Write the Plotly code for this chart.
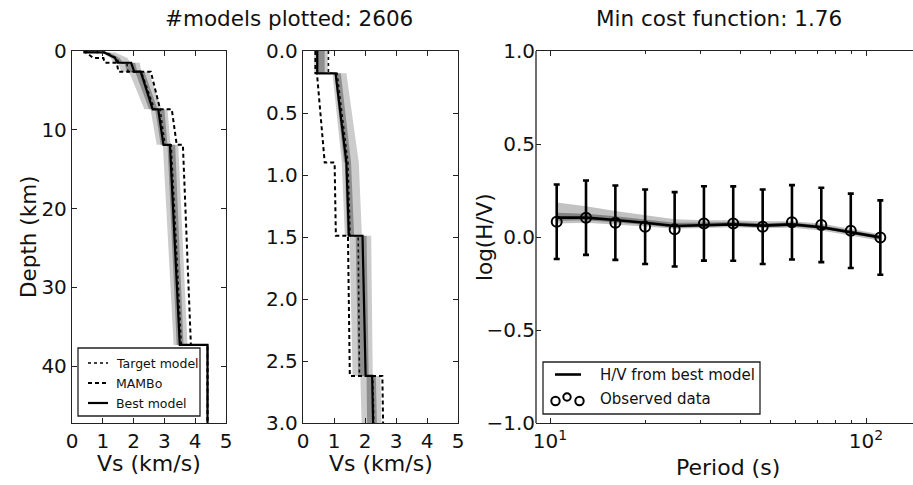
import plotly.graph_objects as go

# ---------------- data ----------------
# Layered Vs profiles (depth boundaries in km, Vs at top / bottom of each layer in km/s)
LAYER_Z = [0.0, 0.18, 0.90, 1.49, 2.62, 7.40, 11.90, 37.30, 47.50]
BEST_V_TOP = [0.46, 1.05, 1.40, 1.92, 2.23, 2.80, 3.18, 4.40]
BEST_V_BOT = [0.46, 1.40, 1.48, 2.02, 2.62, 2.97, 3.50, 4.40]
MAMBO_V_TOP = [0.40, 0.45, 1.02, 1.45, 2.56, 3.24, 3.60, 4.40]
MAMBO_V_BOT = [0.40, 0.70, 1.06, 1.51, 2.86, 3.40, 3.86, 4.40]
TARGET_V_TOP = [0.82, 1.10, 1.45, 1.78, 2.25, 2.86, 3.22, 4.40]
TARGET_V_BOT = [0.82, 1.45, 1.52, 1.82, 2.68, 3.02, 3.55, 4.40]

# envelope of the plotted ensemble of models (first 7 layers)
ENS_Z = [0.0, 0.18, 0.90, 1.49, 2.62, 7.40, 11.90, 37.30]
ENS_OUT_LO_TOP = [0.36, 0.95, 1.25, 1.50, 1.85, 2.55, 2.95]
ENS_OUT_LO_BOT = [0.36, 1.25, 1.35, 1.60, 2.35, 2.75, 3.30]
ENS_OUT_HI_TOP = [0.80, 1.40, 1.80, 2.20, 2.50, 3.10, 3.45]
ENS_OUT_HI_BOT = [0.80, 1.80, 1.90, 2.25, 2.90, 3.20, 3.75]
ENS_IN_LO_TOP = [0.42, 1.02, 1.35, 1.70, 2.05, 2.70, 3.10]
ENS_IN_LO_BOT = [0.42, 1.32, 1.42, 1.78, 2.50, 2.88, 3.40]
ENS_IN_HI_TOP = [0.70, 1.22, 1.55, 2.05, 2.35, 3.00, 3.35]
ENS_IN_HI_BOT = [0.70, 1.55, 1.65, 2.12, 2.78, 3.10, 3.62]

# H/V curves
HV_PERIOD = [10.5, 13.0, 16.1, 20.0, 24.8, 30.7, 38.0, 47.1, 58.3, 72.2, 89.5, 111.0]
HV_OBS = [0.082, 0.104, 0.077, 0.055, 0.041, 0.073, 0.072, 0.055, 0.079, 0.065, 0.033, -0.003]
HV_ERR = [0.20, 0.20, 0.20, 0.20, 0.20, 0.20, 0.20, 0.20, 0.20, 0.20, 0.20, 0.20]
HV_BEST = [0.104, 0.104, 0.091, 0.077, 0.059, 0.065, 0.068, 0.061, 0.068, 0.052, 0.025, -0.002]
HV_ENS_HI = [0.185, 0.165, 0.140, 0.118, 0.095, 0.090, 0.090, 0.085, 0.085, 0.072, 0.045, 0.015]
HV_ENS_LO = [0.072, 0.076, 0.068, 0.056, 0.044, 0.050, 0.053, 0.047, 0.050, 0.035, 0.008, -0.020]
HV_CORE_HI = [0.130, 0.125, 0.112, 0.095, 0.076, 0.078, 0.080, 0.074, 0.078, 0.063, 0.036, 0.008]
HV_CORE_LO = [0.088, 0.090, 0.080, 0.066, 0.050, 0.056, 0.060, 0.053, 0.058, 0.044, 0.016, -0.011]

TITLE_LEFT = "#models plotted: 2606"
TITLE_RIGHT = "Min cost function: 1.76"

# ---------------- helpers ----------------
W, H = 913, 485
FONT = "DejaVu Sans"


def fx(px):
    return px / W


def fy(py):
    return 1 - py / H


def profile(z, vtop, vbot):
    xs, ys = [], []
    for i in range(len(vtop)):
        xs += [vtop[i], vbot[i]]
        ys += [z[i], z[i + 1]]
    return xs, ys


def band(z, lo_top, lo_bot, hi_top, hi_bot):
    lx, ly = profile(z, lo_top, lo_bot)
    hx, hy = profile(z, hi_top, hi_bot)
    return lx + hx[::-1] + [lx[0]], ly + hy[::-1] + [ly[0]]


fig = go.Figure()

for xa, ya in (("x", "y"), ("x2", "y2")):
    bx, by = band(ENS_Z, ENS_OUT_LO_TOP, ENS_OUT_LO_BOT, ENS_OUT_HI_TOP, ENS_OUT_HI_BOT)
    fig.add_trace(go.Scatter(x=bx, y=by, xaxis=xa, yaxis=ya, mode="lines", fill="toself",
                             fillcolor="rgba(0,0,0,0.2)", line=dict(width=0),
                             showlegend=False, hoverinfo="skip"))
    bx, by = band(ENS_Z, ENS_IN_LO_TOP, ENS_IN_LO_BOT, ENS_IN_HI_TOP, ENS_IN_HI_BOT)
    fig.add_trace(go.Scatter(x=bx, y=by, xaxis=xa, yaxis=ya, mode="lines", fill="toself",
                             fillcolor="rgba(0,0,0,0.3)", line=dict(width=0),
                             showlegend=False, hoverinfo="skip"))
    px_, py_ = profile(LAYER_Z, TARGET_V_TOP, TARGET_V_BOT)
    fig.add_trace(go.Scatter(x=px_, y=py_, xaxis=xa, yaxis=ya, mode="lines",
                             line=dict(color="#111", width=1.6, dash="dot"), showlegend=False))
    px_, py_ = profile(LAYER_Z, MAMBO_V_TOP, MAMBO_V_BOT)
    fig.add_trace(go.Scatter(x=px_, y=py_, xaxis=xa, yaxis=ya, mode="lines",
                             line=dict(color="#000", width=2, dash="4px,3px"), showlegend=False))
    px_, py_ = profile(LAYER_Z, BEST_V_TOP, BEST_V_BOT)
    fig.add_trace(go.Scatter(x=px_, y=py_, xaxis=xa, yaxis=ya, mode="lines",
                             line=dict(color="#000", width=2.2), showlegend=False))

# H/V panel
fig.add_trace(go.Scatter(x=HV_PERIOD + HV_PERIOD[::-1], y=HV_ENS_HI + HV_ENS_LO[::-1],
                         xaxis="x3", yaxis="y3", mode="lines", fill="toself",
                         fillcolor="rgba(0,0,0,0.24)", line=dict(width=0),
                         showlegend=False, hoverinfo="skip"))
fig.add_trace(go.Scatter(x=HV_PERIOD + HV_PERIOD[::-1], y=HV_CORE_HI + HV_CORE_LO[::-1],
                         xaxis="x3", yaxis="y3", mode="lines", fill="toself",
                         fillcolor="rgba(0,0,0,0.32)", line=dict(width=0),
                         showlegend=False, hoverinfo="skip"))
fig.add_trace(go.Scatter(x=HV_PERIOD, y=HV_BEST, xaxis="x3", yaxis="y3", mode="lines",
                         line=dict(color="#000", width=2.6), showlegend=False))
fig.add_trace(go.Scatter(x=HV_PERIOD, y=HV_OBS, xaxis="x3", yaxis="y3", mode="markers",
                         marker=dict(symbol="circle-open", size=10, color="#000",
                                     line=dict(width=2, color="#000")),
                         error_y=dict(type="data", array=HV_ERR, visible=True,
                                      thickness=2.6, width=3, color="#000"),
                         showlegend=False))

axis_common = dict(showline=True, linecolor="#222", linewidth=1.3, mirror="ticks",
                   ticks="inside", ticklen=5, tickwidth=1, tickcolor="#222",
                   showgrid=False, zeroline=False, automargin=False,
                   tickfont=dict(family=FONT, size=20, color="#111"))

ydom = [fy(423), fy(51)]
fig.update_layout(
    width=W, height=H, margin=dict(l=0, r=0, t=0, b=0, autoexpand=False),
    paper_bgcolor="white", plot_bgcolor="white", showlegend=False,
    font=dict(family=FONT, color="#111"),
    xaxis=dict(axis_common, domain=[fx(72), fx(226)], range=[0, 5], dtick=1, anchor="y"),
    yaxis=dict(axis_common, domain=ydom, range=[47.2, 0], tickvals=[0, 10, 20, 30, 40],
               anchor="x"),
    xaxis2=dict(axis_common, domain=[fx(303), fx(458)], range=[0, 5], dtick=1, anchor="y2"),
    yaxis2=dict(axis_common, domain=ydom, range=[3, 0], tickvals=[0, 0.5, 1, 1.5, 2, 2.5, 3],
                tickformat=".1f", anchor="x2"),
    xaxis3=dict(axis_common, domain=[fx(536), 1.0], type="log", range=[0.9557, 2.1487],
                tickvals=[10, 100], ticktext=["10<sup>1</sup>", "10<sup>2</sup>"], anchor="y3",
                minor=dict(tickvals=[20, 30, 40, 50, 60, 70, 80, 90], ticks="inside",
                           ticklen=3, tickcolor="#222", showgrid=False)),
    yaxis3=dict(axis_common, domain=ydom, range=[-1, 1], tickvals=[-1, -0.5, 0, 0.5, 1],
                tickformat=".1f", anchor="x3", mirror=False, showline=False),
)

ann = []


def text(s, px, py, size, xanchor="center", angle=0):
    ann.append(dict(text=s, x=fx(px), y=fy(py), xref="paper", yref="paper", showarrow=False,
                    xanchor=xanchor, yanchor="middle", textangle=angle,
                    font=dict(family=FONT, size=size, color="#111")))


text(TITLE_LEFT, 289, 19, 21.5)
text(TITLE_RIGHT, 719, 19, 21.5)
text("Depth (km)", 28, 237, 21.5, angle=-90)
text("Vs (km/s)", 149, 463, 22)
text("Vs (km/s)", 381, 463, 22)
text("log(H/V)", 484, 237, 21.5, angle=-90)
text("Period (s)", 728, 467, 22)

shapes = []

# left spine of the H/V panel
shapes.append(dict(type="line", xref="x3 domain", yref="y3 domain", x0=0, x1=0, y0=0, y1=1,
                   line=dict(color="#222", width=1.3), layer="above"))


def rect(x0, y0, x1, y1):
    shapes.append(dict(type="rect", xref="paper", yref="paper", x0=fx(x0), x1=fx(x1),
                       y0=fy(y1), y1=fy(y0), fillcolor="white",
                       line=dict(color="#222", width=1.3), layer="above"))


def hline(x0, x1, y, width, dash="solid"):
    shapes.append(dict(type="line", xref="paper", yref="paper", x0=fx(x0), x1=fx(x1),
                       y0=fy(y), y1=fy(y), line=dict(color="#000", width=width, dash=dash),
                       layer="above"))


def circ(cx, cy, r):
    shapes.append(dict(type="circle", xref="paper", yref="paper", x0=fx(cx - r), x1=fx(cx + r),
                       y0=fy(cy + r), y1=fy(cy - r), line=dict(color="#000", width=2),
                       layer="above"))


# legend panel 1
rect(78, 348, 200, 416)
hline(88, 108, 363, 1.6, "dot")
hline(88, 108, 383, 2, "4px,3px")
hline(88, 108, 403, 2.2)
text("Target model", 114, 363, 12.5, xanchor="left")
text("MAMBo", 114, 383, 12.5, xanchor="left")
text("Best model", 114, 403, 12.5, xanchor="left")

# legend panel 3
rect(543, 362, 760, 414)
hline(555, 581, 374.5, 2.6)
circ(555.5, 401, 4.2)
circ(567, 397, 3.7)
circ(579.5, 401, 4.2)
text("H/V from best model", 598, 374.5, 15, xanchor="left")
text("Observed data", 598, 399, 15, xanchor="left")

fig.update_layout(annotations=ann, shapes=shapes)

fig.write_html("out.html", config={"displayModeBar": False},
               post_script=("document.body.style.margin='0';document.body.style.padding='0';"
                            "document.body.style.overflow='hidden';"
                            "document.documentElement.style.overflow='hidden';"))
